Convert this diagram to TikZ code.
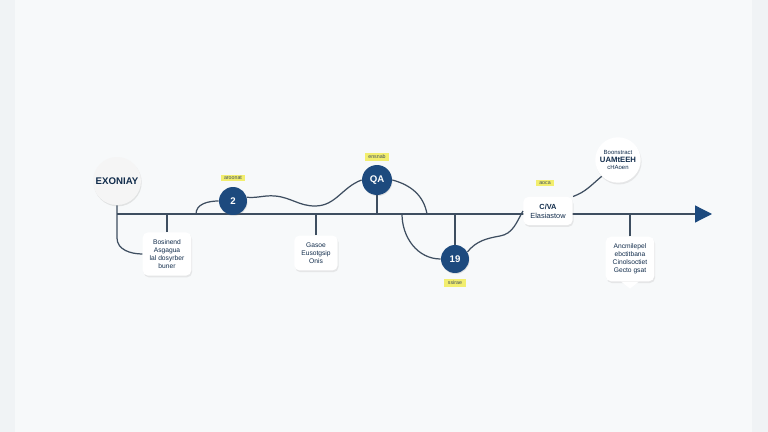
\documentclass[tikz,border=0pt]{standalone}
\usepackage{fontspec}
\setmainfont{Liberation Sans}
\usetikzlibrary{arrows.meta,shadows}
\definecolor{navy}{HTML}{1D4A7E}
\definecolor{linegray}{HTML}{3E4E60}
\definecolor{tagyellow}{HTML}{F2EE6E}
\definecolor{bgout}{HTML}{F0F3F5}
\definecolor{bgin}{HTML}{F7F9FA}
\tikzset{
	line/.style={draw=linegray,line width=0.7pt},
	hub/.style={circle,fill=black!4,minimum size=0.96cm,inner sep=0pt,font=\fontsize{5.5}{5.5}\selectfont\bfseries,text=navy!60!black,drop shadow={opacity=0.18,shadow xshift=0.4pt,shadow yshift=-0.8pt}},
	dot/.style={circle,fill=navy,minimum size=0.56cm,inner sep=0pt,font=\fontsize{5.5}{5.5}\selectfont\bfseries,text=white,drop shadow={opacity=0.2,shadow xshift=0.3pt,shadow yshift=-0.6pt}},
	tag/.style={fill=tagyellow,inner xsep=2pt,inner ysep=1pt,font=\fontsize{3}{3}\selectfont,text=linegray},
	card/.style={rounded corners=3pt,fill=white,align=center,inner sep=4pt,font=\fontsize{3.8}{4.6}\selectfont,text=navy!60!black,drop shadow={opacity=0.15,shadow xshift=0.5pt,shadow yshift=-1pt}},
}
\begin{document}
\begin{tikzpicture}[x=0.02cm,y=-0.02cm]
	% background
	\fill[bgout] (0,0) rectangle (768,432);
	\fill[bgin] (15,0) rectangle (752,432);
	\useasboundingbox (0,0) rectangle (768,432);
	% axis
	\coordinate (start) at (117,214);
	\coordinate (end) at (712,214);
	\draw[line,-{Triangle[length=0.34cm,width=0.34cm,color=navy]}] (start) -- (end);
	% nodes
	\node[hub] (exo) at (117,181) {EXONIAY};
	\node[dot] (two) at (233,201) {2};
	\node[dot,minimum size=0.6cm] (qa) at (377,180) {QA};
	\node[dot] (nt) at (455,259) {19};
	\node[tag] (t2) at (233,178) {aroonat};
	\node[tag] (tqa) at (377,157) {ensnab};
	\node[tag] (tnt) at (455,283) {ssirae};
	\node[tag] (tca) at (545,183) {aoca};
	\node[card] (c1) at (167,254) {Bosinend\\Asgagua\\lal dosyrber\\buner};
	\node[card] (c2) at (316,253) {Gasoe\\Eusotgsip\\Onis};
	\node[card,font=\fontsize{4.2}{5}\selectfont] (ca) at (548,211) {{\bfseries C/VA}\\Elasiastow};
	\node[card,circle,inner sep=1pt,font=\fontsize{3.4}{4.2}\selectfont] (top) at (618,160) {Boonstract\\{\fontsize{4.4}{5}\selectfont\bfseries UAMtEEH}\\cHAoen};
	\node[card] (c4) at (630,259) {Ancmilepel\\ebctitbana\\Cinolsoctiet\\Gecto gsat};
	\fill[white] ([xshift=-5pt]c4.south) -- ([xshift=5pt]c4.south) -- ([yshift=-4pt]c4.south) -- cycle;
	% connectors
	\coordinate (b1) at (196,214);
	\coordinate (dip) at (315,206);
	\coordinate (q1) at (427,214);
	\coordinate (d1) at (402,214);
	\coordinate (r1) at (500,236);
	\draw[line] (exo) -- (117,238) to[out=-90,in=180] (c1.west);
	\draw[line] (c1.north) -- (c1.north |- start);
	\draw[line] (b1) to[out=90,in=180] (two.west);
	\draw[line] (two.15) to[out=-5,in=175] (275,196) to[out=-5,in=180] (dip) to[out=0,in=200] (qa.west);
	\draw[line] (c2.north) -- (c2.north |- start);
	\draw[line] (qa) -- (qa |- start);
	\draw[line] (qa.east) to[out=-15,in=100] (q1);
	\draw[line] (d1) to[out=-90,in=180] (nt.west);
	\draw[line] (nt) -- (nt |- start);
	\draw[line] (nt.30) to[out=50,in=190] (r1) to[out=10,in=-120] (ca.west);
	\draw[line] (ca.north east) to[out=20,in=220] (top.south west);
	\draw[line] (c4.north) -- (c4.north |- start);
\end{tikzpicture}
\end{document}
